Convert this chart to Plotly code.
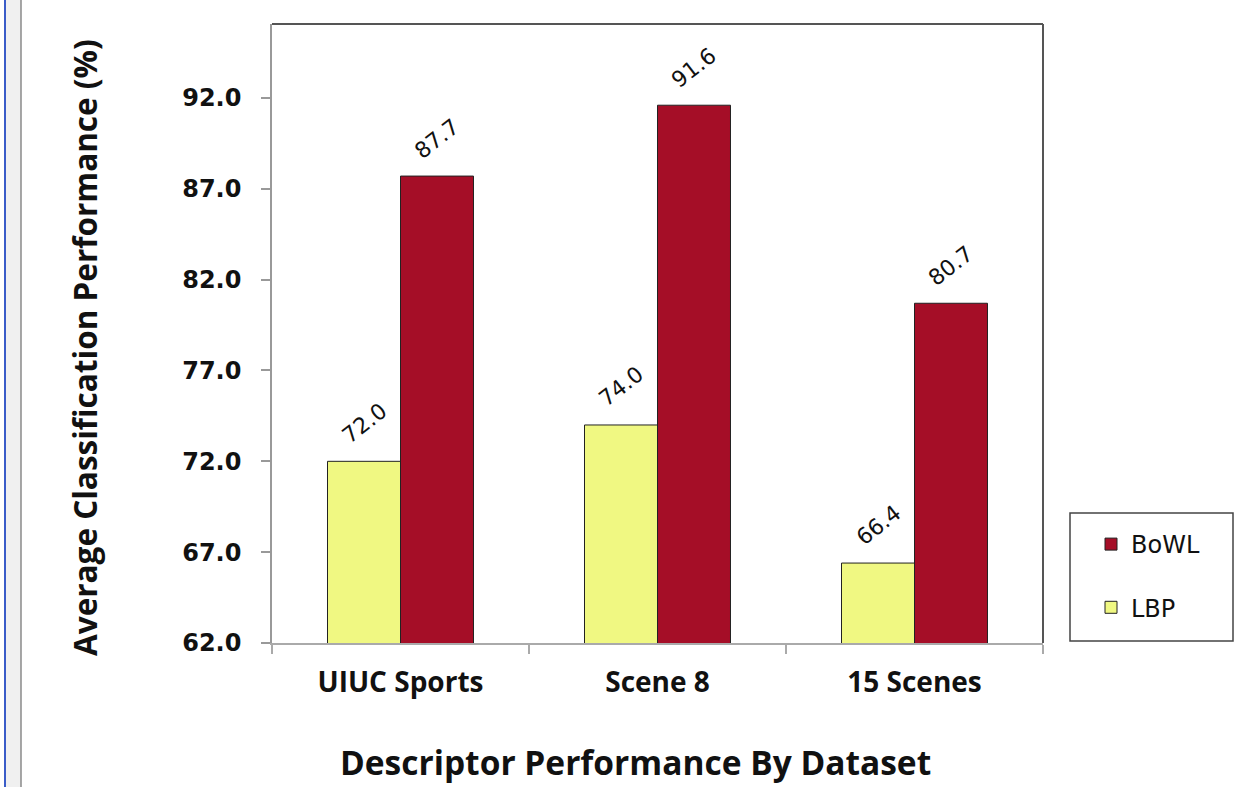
import plotly.graph_objects as go

# Classification accuracy (%) per dataset for each descriptor
datasets = ["UIUC Sports", "Scene 8", "15 Scenes"]
lbp_scores = [72.0, 74.0, 66.4]
bowl_scores = [87.7, 91.6, 80.7]

LBP_COLOR = "#F0F882"
BOWL_COLOR = "#A50E27"

W, H = 1241, 787
L, R, T, B = 272, 198, 24, 144
PW, PH = W - L - R, H - T - B


def px_x(px):
    return (px - L) / PW


def px_y(py):
    return (H - B - py) / PH


fig = go.Figure()
fig.add_trace(go.Bar(
    name="LBP", x=datasets, y=lbp_scores,
    marker=dict(color=LBP_COLOR, line=dict(color="#222222", width=1)),
    legendgroup="lbp", legendrank=2,
))
fig.add_trace(go.Bar(
    name="BoWL", x=datasets, y=bowl_scores,
    marker=dict(color=BOWL_COLOR, line=dict(color="#222222", width=1)),
    legendgroup="bowl", legendrank=1,
))

# Rotated value labels above each bar
label_font = dict(family="DejaVu Sans", size=22, color="#111111")
half_bar = PW / 3 * 0.568 / 4
for series, offset in ((lbp_scores, -half_bar), (bowl_scores, half_bar)):
    for cat, val in zip(datasets, series):
        fig.add_annotation(
            x=cat, y=val, xref="x", yref="y", text=f"{val:.1f}",
            showarrow=False, textangle=-38, font=label_font,
            xshift=offset, yshift=38,
        )

# Axis titles
fig.add_annotation(
    x=px_x(84), y=px_y(348), xref="paper", yref="paper",
    text="Average Classification Performance (%)", textangle=-90,
    showarrow=False, xanchor="center", yanchor="middle",
    font=dict(family="Open Sans", size=31.5, color="#111111", weight="bold"),
)
fig.add_annotation(
    x=px_x(635), y=px_y(787), xref="paper", yref="paper",
    text="Descriptor Performance By Dataset",
    showarrow=False, xanchor="center", yanchor="bottom",
    font=dict(family="Open Sans", size=33.5, color="#111111", weight="bold"),
)

shapes = [
    # top and right border of the plot area
    dict(type="line", xref="paper", yref="paper", x0=0, x1=1, y0=1, y1=1,
         line=dict(color="#555555", width=2)),
    dict(type="line", xref="paper", yref="paper", x0=1, x1=1, y0=0, y1=1,
         line=dict(color="#555555", width=2)),
    # legend frame
    dict(type="rect", xref="paper", yref="paper",
         x0=px_x(1070), x1=px_x(1233), y0=px_y(641), y1=px_y(513),
         line=dict(color="#444444", width=1.5), fillcolor="white", layer="below"),
    # window side strip on the left
    dict(type="rect", xref="paper", yref="paper",
         x0=px_x(5), x1=px_x(21), y0=-1, y1=2,
         line=dict(width=0), fillcolor="#F0F0F0", layer="below"),
    dict(type="line", xref="paper", yref="paper", x0=px_x(5), x1=px_x(5), y0=-1, y1=2,
         line=dict(color="#3A5CC8", width=2)),
    dict(type="line", xref="paper", yref="paper", x0=px_x(21), x1=px_x(21), y0=-1, y1=2,
         line=dict(color="#8A8A8A", width=1.5)),
]

fig.update_layout(
    width=W, height=H,
    margin=dict(l=L, r=R, t=T, b=B),
    paper_bgcolor="white", plot_bgcolor="white",
    barmode="group", bargap=0.432, bargroupgap=0,
    shapes=shapes,
    showlegend=True,
    legend=dict(
        x=px_x(1091), y=px_y(522), xanchor="left", yanchor="top",
        traceorder="grouped", tracegroupgap=29,
        font=dict(family="DejaVu Sans", size=24, color="#111111"),
        bgcolor="rgba(0,0,0,0)", borderwidth=0,
    ),
)

fig.update_yaxes(
    range=[62, 96.07], tick0=62, dtick=5, tickformat=".1f",
    showgrid=False, zeroline=False,
    showline=True, linecolor="#999999", linewidth=1.5,
    ticks="outside", ticklen=9, tickcolor="#999999", tickwidth=1.5,
    ticklabelstandoff=15,
    tickfont=dict(family="DejaVu Sans", size=24, color="#111111", weight="bold"),
)
fig.update_xaxes(
    showgrid=False, zeroline=False,
    showline=True, linecolor="#AAAAAA", linewidth=1.5,
    ticks="outside", ticklen=9, tickcolor="#AAAAAA", tickwidth=1.5,
    tickson="boundaries", ticklabelstandoff=14,
    tickfont=dict(family="Open Sans", size=28, color="#111111", weight="bold"),
)

fig.write_html("out.html")
